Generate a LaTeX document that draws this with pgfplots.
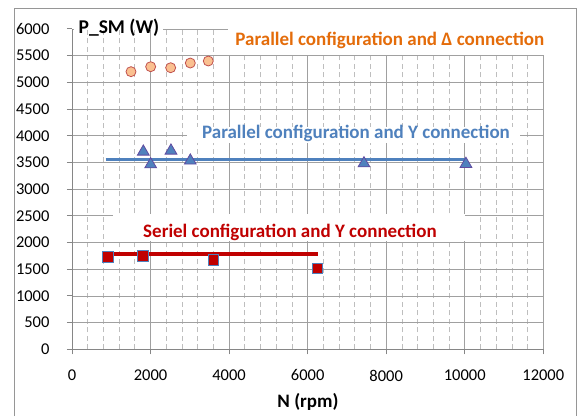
\documentclass[border=0pt]{standalone}
\usepackage{pgfplots}
\pgfplotsset{compat=1.18}
\usepackage{fontspec}
\setmainfont{Carlito}
\definecolor{gridmaj}{RGB}{160,160,160}
\definecolor{gridmin}{RGB}{190,190,190}
\definecolor{axisgray}{RGB}{134,134,134}
\definecolor{borderg}{RGB}{150,150,150}
\definecolor{orangetxt}{RGB}{228,108,10}
\definecolor{circfill}{RGB}{250,192,144}
\definecolor{circedge}{RGB}{192,80,77}
\definecolor{bluec}{RGB}{79,129,189}
\definecolor{bluetxt}{RGB}{79,129,189}
\definecolor{triedge}{RGB}{96,74,160}
\definecolor{redc}{RGB}{192,0,0}
\begin{document}
\begin{tikzpicture}[x=1pt,y=1pt]
\begin{axis}[
  at={(72pt,66.7pt)}, anchor=south west,
  scale only axis, width=471.3pt, height=320.4pt,
  xmin=0, xmax=12000, ymin=0, ymax=6000,
  xtick={0,2000,...,12000}, ytick={0,500,...,6000},
  minor x tick num=4,
  axis x line*=bottom, axis y line*=left,
  axis line style={axisgray, line width=0.9pt},
  tick align=outside, major tick length=5pt, minor tick length=0pt,
  tick style={axisgray, line width=0.9pt},
  xmajorgrids, ymajorgrids, xminorgrids,
  major grid style={gridmaj, line width=0.8pt, solid},
  minor grid style={gridmin, line width=0.7pt, dash pattern=on 5pt off 3.5pt},
  scaled ticks=false,
  /pgf/number format/assume math mode=true,
  /pgf/number format/.cd, 1000 sep={}, /pgfplots/.cd,
  ticklabel style={font=\fontsize{16.5}{18}\selectfont},
  yticklabel style={xshift=-14pt},
  xticklabel style={yshift=-12pt},
  clip=false,
]
% trend lines
\addplot[bluec, line width=3.5pt] coordinates {(858,3558) (10030,3558)};
\addplot[redc, line width=3.3pt] coordinates {(909,1785) (6270,1785)};
% Parallel, Delta
\addplot[only marks, mark=*, mark size=5pt, mark options={fill=circfill, draw=circedge, line width=0.8pt}]
  coordinates {(1502,5199) (2003,5292) (2512,5273) (3012,5361) (3470,5399)};
% Parallel, Y
\addplot[only marks, mark=triangle*, mark size=6.8pt, mark options={fill=bluec, draw=triedge, line width=0.8pt}]
  coordinates {(1816,3700) (2003,3462) (2520,3719) (3012,3532) (7434,3481) (10030,3470)};
% Serial, Y
\addplot[only marks, mark=square*, mark size=5.2pt, mark options={fill=redc, draw=bluec, line width=0.8pt}]
  coordinates {(909,1734) (1808,1747) (3598,1672) (6255,1517)};
% white label boxes
\fill[white] (axis cs:3971,5511) rectangle (axis cs:12060,6129);
\fill[white] (axis cs:2928,3863) rectangle (axis cs:11405,4163);
\fill[white] (axis cs:1044,2028) rectangle (axis cs:10005,2534);
\fill[white] (axis cs:51,5979) rectangle (axis cs:2317,6316);
\node[font=\fontsize{19}{21}\selectfont\bfseries, text=orangetxt] at (axis cs:8092,5792) {Parallel configuration and Δ connection};
\node[font=\fontsize{19}{21}\selectfont\bfseries, text=bluetxt] at (axis cs:7231,4045) {Parallel configuration and Y connection};
\node[font=\fontsize{19}{21}\selectfont\bfseries, text=redc] at (axis cs:5550,2184) {Seriel configuration and Y connection};
\node[font=\fontsize{19.5}{21}\selectfont\bfseries, text=black] at (axis cs:1196,6030) {P\_SM (W)};
\node[font=\fontsize{19}{21}\selectfont\bfseries, text=black] at (axis cs:6008,-981) {N (rpm)};
\end{axis}
\draw[borderg, line width=0.8pt] (14,0) -- (14,408) -- (576,408) -- (576,0);
\pgfresetboundingbox
\useasboundingbox (0,0) rectangle (577,416);
\end{tikzpicture}
\end{document}
